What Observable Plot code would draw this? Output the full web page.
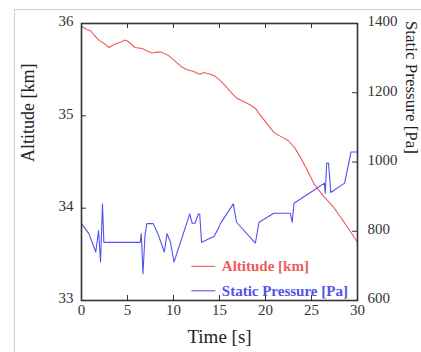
<!DOCTYPE html>
<html><head><meta charset="utf-8">
<script src="https://cdn.jsdelivr.net/npm/d3@7"></script>
<script src="https://cdn.jsdelivr.net/npm/@observablehq/plot@0.6"></script>
<style>
body{margin:0;background:#fff;}
#wrap{position:relative;width:421px;height:352px;overflow:hidden;}
#wrap svg, #wrap svg text{font-family:"Liberation Serif","Times New Roman",serif !important;}
#border{position:absolute;left:14px;top:9px;width:500px;height:500px;border-left:1px solid #cfcfcf;border-top:1px solid #cfcfcf;pointer-events:none;z-index:2;}
</style></head><body><div id="wrap"><div id="border"></div></div>
<script>
// Altitude series
const timeAlt = [0,0.5,1.0,1.4,1.9,2.5,3.0,3.7,4.3,4.7,5.0,5.5,5.8,6.6,7.2,7.7,8.2,8.7,9.5,10.2,10.9,11.5,12.2,12.6,12.9,13.3,14.0,14.5,15.0,15.6,16.2,16.9,17.5,18.3,18.9,19.5,20.2,20.9,21.6,22.5,23.2,23.8,24.5,25.3,26.3,27.4,28.6,29.8,30.0];
const altitude = [35.97,35.94,35.92,35.87,35.82,35.78,35.74,35.78,35.80,35.82,35.81,35.77,35.74,35.73,35.70,35.68,35.69,35.69,35.65,35.59,35.53,35.50,35.48,35.46,35.45,35.47,35.45,35.43,35.39,35.33,35.26,35.19,35.16,35.12,35.08,35.00,34.91,34.82,34.78,34.73,34.65,34.55,34.42,34.26,34.13,34.01,33.84,33.66,33.63];
// Static pressure series
const timeP = [0,0.8,1.55,1.85,2.07,2.28,2.43,6.38,6.5,6.68,6.9,7.1,7.8,8.3,9.0,9.3,9.68,10.05,11.77,12.03,12.35,12.7,12.85,13.05,14.4,14.8,15.1,16.5,16.85,18.9,19.3,20.9,22.7,22.9,23.1,25.3,26.4,26.5,26.65,26.85,27.1,28.6,29.3,30.0];
const pressure = [822,793,740,802,711,879,768,768,793,677,788,822,822,793,740,793,768,711,850,823,823,850,850,768,785,804,822,879,826,766,826,852,852,826,881,919,939,910,997,997,912,939,1029,1029];

const xTicks = [0,5,10,15,20,25,30];
const altTicks = [33,34,35,36];
const pTicks = [600,800,1000,1200,1400];
const altDomain = [33,36];
const pDomain = [600,1400];
const legendLabels = ["Altitude [km]","Static Pressure [Pa]"];
const colors = ["#ef5b5b","#5252ee"];
const toAlt = p => altDomain[0] + (p-pDomain[0])*(altDomain[1]-altDomain[0])/(pDomain[1]-pDomain[0]);
const fromAlt = a => pDomain[0] + (a-altDomain[0])*(pDomain[1]-pDomain[0])/(altDomain[1]-altDomain[0]);

const altData = timeAlt.map((t,i)=>({t, v: altitude[i]}));
const pData = timeP.map((t,i)=>({t, v: toAlt(pressure[i])}));

const W=421,H=352,mL=81,mR=64,mT=23,mB=52;
const fw=W-mL-mR, fh=H-mT-mB, tk=5;
const axisColor="#333";

// legend placement (data units)
const legY=[33.37,33.105], legX1=12.0, legX2=14.6, legTX=15.25;
const legend = legendLabels.map((l,i)=>({label:l,color:colors[i],y:legY[i]}));

const plot = Plot.plot({
  width: W, height: H,
  marginLeft: mL, marginRight: mR, marginTop: mT, marginBottom: mB,
  style: {fontSize: "15px", color: axisColor, background: "transparent"},
  x: {domain: [0,30]},
  y: {domain: altDomain},
  marks: [
    Plot.line(altData, {x:"t", y:"v", stroke: colors[0], strokeWidth: 1.1}),
    Plot.line(pData, {x:"t", y:"v", stroke: colors[1], strokeWidth: 1.1}),
    // inward ticks
    Plot.tickX(xTicks.slice(1,-1), {x: d=>d, insetTop: fh-tk, stroke: axisColor}),
    Plot.tickX(xTicks.slice(1,-1), {x: d=>d, insetBottom: fh-tk, stroke: axisColor}),
    Plot.tickY(altTicks.slice(1,-1), {y: d=>d, insetRight: fw-tk, stroke: axisColor}),
    Plot.tickY(pTicks.slice(1,-1).map(toAlt), {y: d=>d, insetLeft: fw-tk, stroke: axisColor}),
    Plot.frame({stroke: axisColor, strokeWidth: 1.6}),
    Plot.axisX(xTicks, {tickSize: 0, tickPadding: 4, tickFormat: d=>String(d), label: null, fill: axisColor}),
    Plot.axisY(altTicks, {anchor: "left", tickSize: 0, tickPadding: 8, dy: -2, tickFormat: d=>String(d), label: null, fill: axisColor}),
    Plot.axisY(pTicks.map(toAlt), {anchor: "right", tickSize: 0, tickPadding: 10, dy: -2, tickFormat: d=>String(Math.round(fromAlt(d))), label: null, fill: axisColor}),
    // axis titles
    Plot.text(["Altitude [km]"], {text: d=>d, frameAnchor: "left", rotate: -90, dx: -53, fontSize: 18, fill: "#222"}),
    Plot.text(["Static Pressure [Pa]"], {text: d=>d, frameAnchor: "right", rotate: 90, dx: 54, dy: -8, fontSize: 17, fill: "#222"}),
    Plot.text(["Time [s]"], {text: d=>d, frameAnchor: "bottom", dy: 42, fontSize: 19, fill: "#222"}),
    // legend
    Plot.ruleY(legend, {y: "y", x1: legX1, x2: legX2, stroke: "color", strokeWidth: 1.1}),
    Plot.text(legend, {x: legTX, y: "y", text: "label", fill: "color", textAnchor: "start", fontSize: 15, fontWeight: "bold"})
  ]
});
document.getElementById("wrap").appendChild(plot);
</script>
</body></html>
